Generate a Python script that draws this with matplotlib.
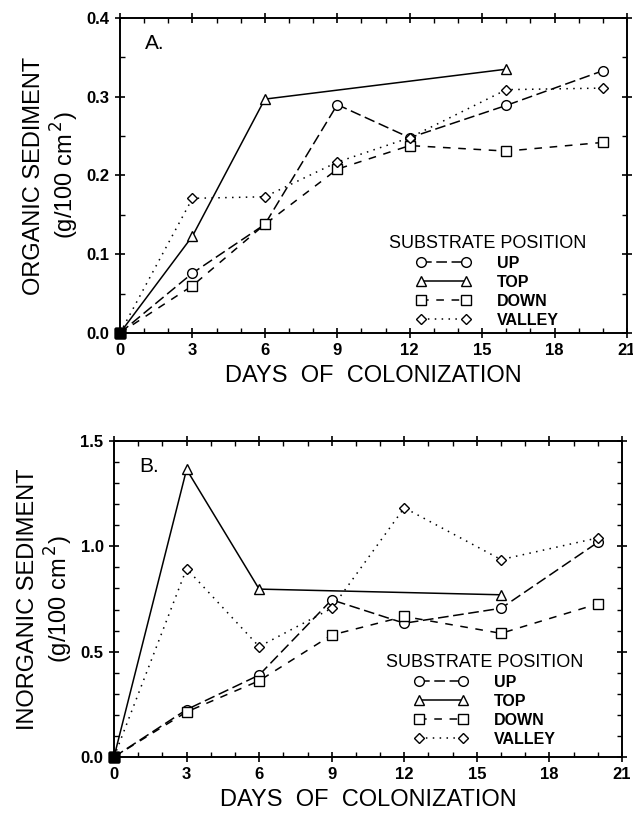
import matplotlib
matplotlib.use("Agg")
import matplotlib.pyplot as plt
from matplotlib.ticker import MultipleLocator, FormatStrFormatter

plt.rcParams['font.family'] = ['Liberation Sans', 'DejaVu Sans']

days_all = [0, 3, 6, 9, 12, 16, 20]
days_top = [0, 3, 6, 16]

org_up = [0.0, 0.076, 0.138, 0.290, 0.248, 0.289, 0.333]
org_top = [0.0, 0.123, 0.297, 0.335]
org_down = [0.0, 0.060, 0.138, 0.208, 0.238, 0.231, 0.242]
org_valley = [0.0, 0.171, 0.173, 0.217, 0.248, 0.309, 0.311]

inorg_up = [0.0, 0.225, 0.389, 0.746, 0.635, 0.706, 1.019]
inorg_top = [0.0, 1.365, 0.797, 0.770]
inorg_down = [0.0, 0.214, 0.362, 0.579, 0.667, 0.587, 0.727]
inorg_valley = [0.0, 0.894, 0.524, 0.706, 1.183, 0.937, 1.040]

series_names = ["UP", "TOP", "DOWN", "VALLEY"]
x_ticks = [0, 3, 6, 9, 12, 15, 18, 21]

styles = {
    "UP": dict(marker='o', dashes=(7, 3)),
    "TOP": dict(marker='^', dashes=None),
    "DOWN": dict(marker='s', dashes=(5, 5)),
    "VALLEY": dict(marker='D', dashes=(1, 3.5)),
}
msize = {"UP": 7, "TOP": 7, "DOWN": 7, "VALLEY": 5.5}

fig = plt.figure(figsize=(6.33, 8.13), dpi=100)
ax1 = fig.add_axes([120/633, 1-333/813, 507/633, 315/813])
ax2 = fig.add_axes([114/633, 1-757/813, 508/633, 316/813])


def draw(ax, data, ymax, ymajor, yminor, ylabel, panel, leg_xy):
    handles = []
    for name in series_names:
        xs, ys = data[name]
        st = styles[name]
        kw = dict(color='black', lw=1.1, marker=st['marker'], markersize=msize[name],
                  markerfacecolor='white', markeredgecolor='black', markeredgewidth=1.0,
                  clip_on=False, zorder=3)
        line, = ax.plot(xs, ys, **kw)
        if st['dashes'] is not None:
            line.set_dashes(st['dashes'])
        handles.append(line)
    # filled origin point
    for name in series_names:
        xs, ys = data[name]
        ax.plot(xs[:1], ys[:1], marker='s', markersize=7, color='black',
                linestyle='none', clip_on=False, zorder=5)
    ax.set_xlim(0, 21)
    ax.set_ylim(0, ymax)
    ax.set_xticks(x_ticks)
    ax.xaxis.set_minor_locator(MultipleLocator(1))
    ax.yaxis.set_major_locator(MultipleLocator(ymajor))
    ax.yaxis.set_minor_locator(MultipleLocator(yminor))
    ax.yaxis.set_major_formatter(FormatStrFormatter('%.1f'))
    ax.tick_params(which='major', direction='inout', length=7, width=1.2,
                   top=True, right=True, labelsize=12, pad=4)
    ax.tick_params(which='minor', direction='in', length=3.5, width=1.0,
                   top=True, right=True)
    for lab in ax.get_xticklabels() + ax.get_yticklabels():
        lab.set_fontweight('bold')
    for sp in ax.spines.values():
        sp.set_linewidth(1.4)
    ax.set_xlabel("DAYS  OF  COLONIZATION", fontsize=17, labelpad=5)
    ax.set_ylabel(ylabel, fontsize=17, labelpad=4, linespacing=1.15)
    ax.text(0.05, 0.92, panel, transform=ax.transAxes, fontsize=15,
            ha='left', va='center')
    leg = ax.legend(handles, series_names, numpoints=2, frameon=False,
                    loc='center', bbox_to_anchor=leg_xy,
                    title="SUBSTRATE POSITION", title_fontsize=13,
                    prop=dict(size=11.5, weight='bold'), handlelength=3.4,
                    handletextpad=1.6, labelspacing=0.25, borderpad=0.2)
    leg._legend_box.align = 'center'


draw(ax1, {"UP": (days_all, org_up), "TOP": (days_top, org_top),
           "DOWN": (days_all, org_down), "VALLEY": (days_all, org_valley)},
     0.4, 0.1, 0.05, "ORGANIC SEDIMENT\n(g/100 cm$^{\\,2}$)", "A.", (0.725, 0.165))

draw(ax2, {"UP": (days_all, inorg_up), "TOP": (days_top, inorg_top),
           "DOWN": (days_all, inorg_down), "VALLEY": (days_all, inorg_valley)},
     1.5, 0.5, 0.1, "INORGANIC SEDIMENT\n(g/100 cm$^{\\,2}$)", "B.", (0.73, 0.18))

fig.savefig("out.png", dpi=100)
